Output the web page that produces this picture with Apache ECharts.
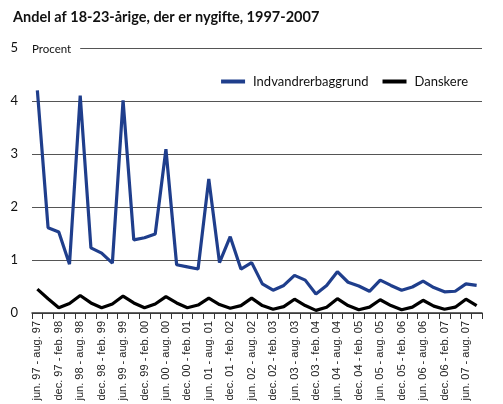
<!DOCTYPE html>
<html><head><meta charset="utf-8">
<script src="https://cdn.jsdelivr.net/npm/echarts@6/dist/echarts.min.js"></script>
<style>html,body{margin:0;padding:0;background:#fff}#c{width:503px;height:404px}</style>
</head><body><div id="c"></div>
<script>
const titleText = 'Andel af 18-23-årige, der er nygifte, 1997-2007';
const yTicks = [0,1,2,3,4,5];
const periods = [];
const yrs = ['97','98','99','00','01','02','03','04','05','06','07','08'];
// quarterly periods, jun 97 - nov 07
for (let i = 0; i < 42; i++) {
  const q = i % 4, y = Math.floor(i / 4);
  let a, b;
  if (q === 0) { a = 'jun. ' + yrs[y]; b = 'aug. ' + yrs[y]; }
  else if (q === 1) { a = 'sep. ' + yrs[y]; b = 'nov. ' + yrs[y]; }
  else if (q === 2) { a = 'dec. ' + yrs[y]; b = 'feb. ' + yrs[y+1]; }
  else { a = 'mar. ' + yrs[y+1]; b = 'maj ' + yrs[y+1]; }
  periods.push(a + ' - ' + b);
}
const indvandrer = [4.20,1.61,1.53,0.92,4.10,1.23,1.13,0.94,4.01,1.38,1.42,1.49,3.09,0.91,0.87,0.83,2.53,0.95,1.44,0.83,0.95,0.55,0.43,0.52,0.71,0.62,0.36,0.52,0.78,0.58,0.51,0.41,0.62,0.52,0.43,0.49,0.60,0.48,0.40,0.41,0.55,0.52];
const danskere = [0.45,0.27,0.10,0.18,0.33,0.19,0.10,0.17,0.32,0.19,0.10,0.17,0.31,0.19,0.10,0.15,0.28,0.16,0.09,0.14,0.28,0.14,0.07,0.12,0.26,0.14,0.05,0.11,0.27,0.14,0.06,0.11,0.25,0.14,0.06,0.11,0.24,0.13,0.07,0.11,0.26,0.14];

const FONT = 'Lato, "DejaVu Sans", sans-serif';
const chart = echarts.init(document.getElementById('c'), null, {renderer: 'canvas'});
chart.setOption({
  animation: false,
  backgroundColor: '#fff',
  textStyle: {fontFamily: FONT},
  title: {text: titleText, left: 8, top: 5,
    textStyle: {fontFamily: FONT, fontWeight: 'bold', fontSize: 14.5, color: '#111'}},
  legend: {
    right: 30, top: 70, itemWidth: 24, itemHeight: 4, itemGap: 14, icon: 'rect',
    textStyle: {fontFamily: FONT, fontSize: 13, color: '#111', padding: [0, 0, 0, 3]},
    data: ['Indvandrerbaggrund', 'Danskere']
  },
  grid: {left: 32, right: 21, top: 48, bottom: 91, containLabel: false, outerBoundsMode: 'none'},
  xAxis: {
    type: 'category', data: periods, boundaryGap: true,
    axisLine: {lineStyle: {color: '#333', width: 1.5}},
    axisTick: {show: true, interval: 0, length: 6, lineStyle: {color: '#333', width: 1}},
    axisLabel: {interval: 1, rotate: 90, fontSize: 11, color: '#222', fontFamily: '"Liberation Sans", Arial, sans-serif', margin: 8}
  },
  yAxis: {
    type: 'value', min: 0, max: 5, interval: 1,
    axisLine: {show: false}, axisTick: {show: false},
    axisLabel: {fontSize: 13, color: '#111', margin: 14, fontFamily: FONT,
      formatter: v => yTicks.includes(v) ? String(v) : ''},
    splitLine: {lineStyle: {color: '#555', width: 1}}
  },
  graphic: [{
    type: 'text', left: 31, top: 41, z: 100,
    style: {text: 'Procent', fontSize: 11.5, fontFamily: FONT, fill: '#111',
      backgroundColor: '#fff', padding: [2, 9, 2, 1]}
  }],
  series: [
    {name: 'Indvandrerbaggrund', type: 'line', data: indvandrer, symbol: 'none',
      lineStyle: {color: '#1f3e8c', width: 3.2}, itemStyle: {color: '#1f3e8c'}},
    {name: 'Danskere', type: 'line', data: danskere, symbol: 'none',
      lineStyle: {color: '#000', width: 3.2}, itemStyle: {color: '#000'}}
  ]
});
</script></body></html>
